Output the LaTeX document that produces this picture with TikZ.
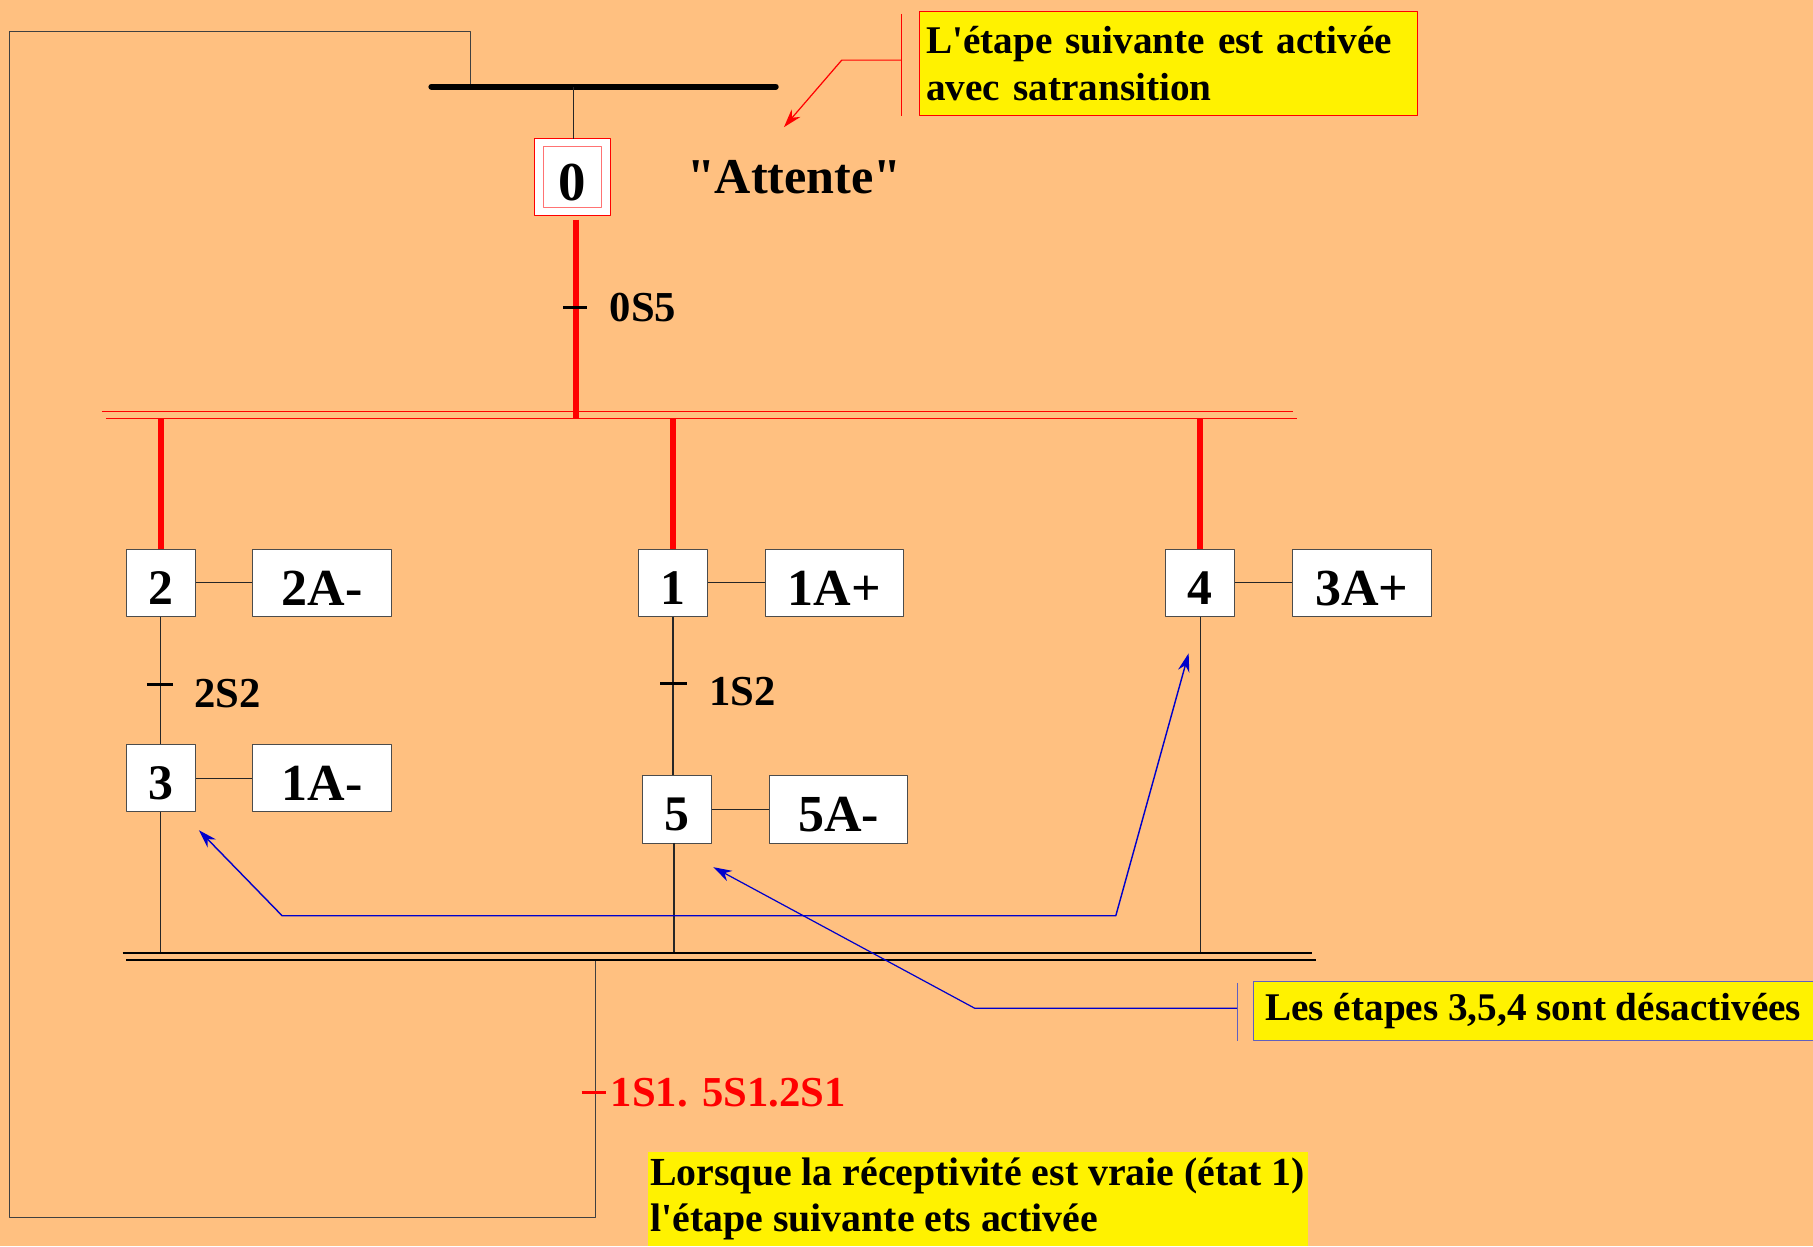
\documentclass[tikz,border=0pt]{standalone}
\usepackage{fontspec}
\setmainfont{Liberation Serif}
\usetikzlibrary{positioning,arrows.meta}
\definecolor{fond}{RGB}{255,192,128}
\definecolor{bleu}{RGB}{0,0,204}
\definecolor{cadre}{RGB}{96,96,192}
\begin{document}
\begin{tikzpicture}[x=0.02cm,y=-0.02cm,>={Stealth[length=0.32cm,width=0.2cm]},line join=round,
	etape/.style={draw=black!70,fill=white,minimum width=1.2cm,minimum height=1.16cm,inner sep=0pt,text height=21pt,text depth=0pt,font=\fontsize{24.5}{24.5}\selectfont\bfseries},
	action/.style={etape,minimum width=2.4cm,text height=22pt,font=\fontsize{25.6}{25.6}\selectfont\bfseries},
	lien/.style={black!85,line width=0.6pt},
	actif/.style={red,line width=0.1cm},
	recep/.style={font=\fontsize{21}{21}\selectfont\bfseries,anchor=west,inner sep=0pt},
	bulle/.style={fill=yellow,inner xsep=0.12cm,inner ysep=0.1cm,align=left,font=\fontsize{19.3}{22.8}\selectfont\bfseries}]
	\fill[fond] (0,0) rectangle (1568,1078);
	\useasboundingbox (0,0) rectangle (1568,1078);
	% boucle de retour
	\coordinate (retB) at (515,830);
	\coordinate (retT) at (407,75);
	\draw[black!75,line width=0.7pt] (retB)--(515,1053)--(8,1053)--(8,27)--(407,27)--(retT);
	\draw[line width=0.1cm,line cap=round] (373,75)--(671,75);
	% etape initiale
	\node[etape,draw=red,minimum size=1.32cm] (e0) at (495,153) {};
	\node[etape,draw=red!55,minimum width=1cm,minimum height=1.04cm,text height=23pt,font=\fontsize{27}{27}\selectfont\bfseries] (e0in) at (e0) {0};
	\node[font=\fontsize{24.7}{24.7}\selectfont\bfseries] (att) at (687,153) {\textquotedbl Attente\textquotedbl};
	\draw[lien] (496,75)--(496,120);
	% divergence en ET
	\draw[red,line width=0.8pt] (88,356)--(1118,356) (92,362)--(1122,362);
	\coordinate (div) at (498,362);
	\draw[actif] (498,190)--(div);
	\draw[line width=1.8pt] (487,266)--(508,266);
	\node[recep] (t0) at (527,266) {0S5};
	% etapes
	\node[etape] (e2) at (139,504) {2};
	\node[etape] (e1) at (582,504) {1};
	\node[etape] (e4) at (1038,504) {4};
	\node[etape] (e3) at (139,673) {3};
	\node[etape] (e5) at (585.5,700) {5};
	\node[action,right=0.98cm of e2] (a2) {2A-};
	\node[action,right=0.98cm of e1] (a1) {1A+};
	\node[action,right=0.98cm of e4] (a4) {3A+};
	\node[action,right=0.98cm of e3] (a3) {1A-};
	\node[action,right=0.98cm of e5] (a5) {5A-};
	\foreach \e/\a in {e2/a2,e1/a1,e4/a4,e3/a3,e5/a5}\draw[lien] (\e)--(\a);
	\foreach \e in {e2,e1,e4}\draw[actif] (\e.north|-div)--(\e.north);
	\draw[lien] (e2)--(e3) (e1.south)--(e1.south|-e5.north);
	\draw[line width=1.8pt] (127,592)--(150,592) (571,591)--(594,591);
	\node[recep] (t2) at (168,600) {2S2};
	\node[recep] (t1) at (613,598) {1S2};
	% convergence en ET
	\coordinate (conv) at (583,824);
	\draw[lien] (e3.south)--(e3.south|-conv) (583,729)--(conv) (e4.south)--(e4.south|-conv);
	\draw[line width=0.8pt] (106,824)--(1135,824) (109,830)--(1138,830);
	\draw[red,line width=1.8pt] (503,945)--(524,945);
	\node[recep,red] (t3) at (528,945) {1S1. 5S1.2S1};
	% commentaires
	\node[bulle,draw=red,text width=8.38cm,minimum height=1.8cm] (b1) at (1010.5,55) {L\textquotesingle étape suivante est activée\\avec satransition};
	\coordinate (b1a) at (780,52);
	\draw[red,line width=0.6pt] (780,12)--(780,100);
	\draw[red,line width=0.6pt,->] (b1a)--(728,52)--(678,110);
	\node[bulle,draw=cadre,inner xsep=0.05cm,minimum width=9.68cm,minimum height=1.02cm] (b2) at (1326,874.5) {Les étapes 3,5,4 sont désactivées};
	\coordinate (b2a) at (1070,872);
	\draw[cadre,line width=0.6pt] (1070,850)--(1070,900);
	\draw[bleu,line width=0.6pt,->] (b2a)--(843,872)--(617,750);
	\draw[bleu,line width=0.7pt,<->] (172,718)--(244,792)--(965,792)--(1028,565);
	\node[bulle,inner xsep=0.01cm,minimum width=11.42cm,minimum height=1.56cm,font=\fontsize{19.6}{22.8}\selectfont\bfseries] (b3) at (845.5,1037) {Lorsque la réceptivité est vraie (état 1)\\l\textquotesingle étape suivante ets activée};
\end{tikzpicture}
\end{document}
